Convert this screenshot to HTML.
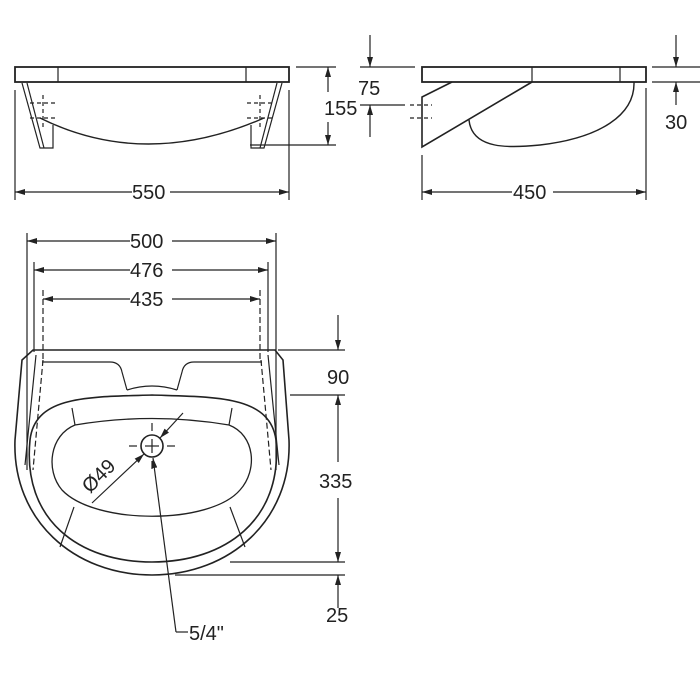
<!DOCTYPE html>
<html><head><style>
html,body{margin:0;padding:0;background:#fff;}
svg{display:block;}
text{font-family:"Liberation Sans",Arial,sans-serif;font-size:20px;fill:#222;}
</style></head><body>
<svg width="700" height="700" viewBox="0 0 700 700" xmlns="http://www.w3.org/2000/svg">
<defs>
<marker id="a" viewBox="0 0 10 6" refX="10" refY="3" markerWidth="12" markerHeight="6" markerUnits="userSpaceOnUse" orient="auto-start-reverse"><path d="M0,0 L10,3 L0,6 z" fill="#222"/></marker>
</defs>
<g stroke="#222" fill="none" stroke-width="1.2">
<!-- FRONT VIEW -->
<rect x="15" y="67" width="274" height="15" stroke-width="1.8"/>
<line x1="58" y1="67" x2="58" y2="82"/><line x1="246" y1="67" x2="246" y2="82"/>
<path d="M22,83 L40,148 L53,148 L53,125"/>
<path d="M27,83 L44,148"/>
<path d="M282,83 L264,148 L251,148 L251,125"/>
<path d="M277,83 L260,148"/>
<path d="M40,118 Q145,170 264,118" stroke-width="1.4"/>
<g stroke-dasharray="4,3"><line x1="43" y1="95" x2="43" y2="130"/><line x1="30" y1="103" x2="57" y2="103"/><line x1="30" y1="118" x2="57" y2="118"/>
<line x1="260" y1="95" x2="260" y2="130"/><line x1="247" y1="103" x2="274" y2="103"/><line x1="247" y1="118" x2="274" y2="118"/></g>
<line x1="296" y1="67" x2="336" y2="67"/><line x1="250" y1="145" x2="336" y2="145"/>
<line x1="328" y1="67" x2="328" y2="92" marker-start="url(#a)"/><line x1="328" y1="122" x2="328" y2="145" marker-end="url(#a)"/>
<line x1="15" y1="90" x2="15" y2="200"/><line x1="289" y1="90" x2="289" y2="200"/>
<line x1="15" y1="192" x2="132" y2="192" marker-start="url(#a)"/><line x1="170" y1="192" x2="289" y2="192" marker-end="url(#a)"/>
<!-- SIDE VIEW -->
<rect x="422" y="67" width="224" height="15" stroke-width="1.8"/>
<line x1="532" y1="67" x2="532" y2="82"/><line x1="620" y1="67" x2="620" y2="82"/>
<path d="M452,82 L422,97 L422,147 L532,82" stroke-width="1.6"/>
<path d="M469,120 C472,150 510,148 540,145 C600,138 635,115 634,82" stroke-width="1.4"/>
<g stroke-dasharray="4,3"><line x1="410" y1="105" x2="432" y2="105"/><line x1="410" y1="118" x2="432" y2="118"/></g>
<line x1="360" y1="67" x2="415" y2="67"/><line x1="360" y1="105" x2="405" y2="105"/>
<line x1="370" y1="35" x2="370" y2="67" marker-end="url(#a)"/><line x1="370" y1="137" x2="370" y2="105" marker-end="url(#a)"/>
<line x1="652" y1="67" x2="700" y2="67"/><line x1="652" y1="82" x2="700" y2="82"/>
<line x1="676" y1="35" x2="676" y2="67" marker-end="url(#a)"/><line x1="676" y1="105" x2="676" y2="82" marker-end="url(#a)"/>
<line x1="422" y1="155" x2="422" y2="200"/><line x1="646" y1="88" x2="646" y2="200"/>
<line x1="422" y1="192" x2="512" y2="192" marker-start="url(#a)"/><line x1="553" y1="192" x2="646" y2="192" marker-end="url(#a)"/>
<!-- PLAN VIEW dims -->
<line x1="27" y1="233" x2="27" y2="470"/><line x1="276" y1="233" x2="276" y2="470"/>
<line x1="34" y1="262" x2="34" y2="352"/><line x1="268" y1="262" x2="268" y2="352"/>
<g stroke-dasharray="6,3"><line x1="43" y1="290" x2="43" y2="360"/><line x1="260" y1="290" x2="260" y2="360"/></g>
<line x1="27" y1="241" x2="130" y2="241" marker-start="url(#a)"/><line x1="172" y1="241" x2="276" y2="241" marker-end="url(#a)"/>
<line x1="34" y1="270" x2="130" y2="270" marker-start="url(#a)"/><line x1="172" y1="270" x2="268" y2="270" marker-end="url(#a)"/>
<line x1="43" y1="299" x2="130" y2="299" marker-start="url(#a)"/><line x1="172" y1="299" x2="260" y2="299" marker-end="url(#a)"/>
<!-- PLAN outline -->
<path d="M33,350 L275,350 L283,360 L289,440 C292,520 230,575 152,575 C74,575 12,520 15,440 L22,360 Z" stroke-width="1.6"/>
<path d="M36,355 L25,465 M268,355 L279,465" />
<path d="M43,360 L33,470 M261,360 L271,470" stroke-dasharray="6,3"/>
<path d="M42,362 L110,362 Q120,362 122,372 L127,390 M262,362 L194,362 Q184,362 182,372 L177,390"/>
<path d="M127,390 Q152,382 177,390" />
<path d="M30,440 C35,395 90,397 152,395 C214,397 270,395 276,440 C283,520 225,562 152,562 C79,562 22,520 30,440 Z" stroke-width="1.6"/>
<path d="M72,408 L75,425 M232,408 L229,425"/>
<path d="M75,425 Q152,412 229,425 C255,435 258,470 240,490 C210,525 95,525 62,490 C45,470 50,435 75,425 Z" stroke-width="1.3"/>
<path d="M74,507 L60,547 M230,507 L245,547"/>
<line x1="290" y1="395" x2="345" y2="395"/><line x1="230" y1="562" x2="345" y2="562"/><line x1="175" y1="575" x2="345" y2="575"/>
<line x1="278" y1="350" x2="345" y2="350"/>
<line x1="338" y1="315" x2="338" y2="350" marker-end="url(#a)"/>
<line x1="338" y1="395" x2="338" y2="462" marker-start="url(#a)"/><line x1="338" y1="498" x2="338" y2="562" marker-end="url(#a)"/>
<line x1="338" y1="608" x2="338" y2="575" marker-end="url(#a)"/>
<!-- drain -->
<circle cx="152" cy="446" r="11" stroke-width="1.6"/>
<line x1="145" y1="446" x2="159" y2="446"/><line x1="152" y1="439" x2="152" y2="453"/>
<line x1="129" y1="446" x2="137" y2="446"/><line x1="167" y1="446" x2="175" y2="446"/>
<line x1="152" y1="423" x2="152" y2="431"/><line x1="152" y1="461" x2="152" y2="469"/>
<line x1="92" y1="503" x2="144" y2="454" marker-end="url(#a)"/>
<line x1="183" y1="413" x2="160" y2="438" marker-end="url(#a)"/>
<line x1="176" y1="632" x2="153" y2="458" marker-end="url(#a)"/>
<line x1="176" y1="632" x2="188" y2="632"/>
</g>
<text x="324" y="115">155</text>
<text x="132" y="199">550</text>
<text x="358" y="95">75</text>
<text x="665" y="129">30</text>
<text x="513" y="199">450</text>
<text x="130" y="248">500</text>
<text x="130" y="277">476</text>
<text x="130" y="306">435</text>
<text x="327" y="384">90</text>
<text x="319" y="488">335</text>
<text x="326" y="622">25</text>
<text x="189" y="640">5/4"</text>
<text x="0" y="0" transform="translate(90,494) rotate(-45)">Ø49</text>
</svg>
</body></html>
